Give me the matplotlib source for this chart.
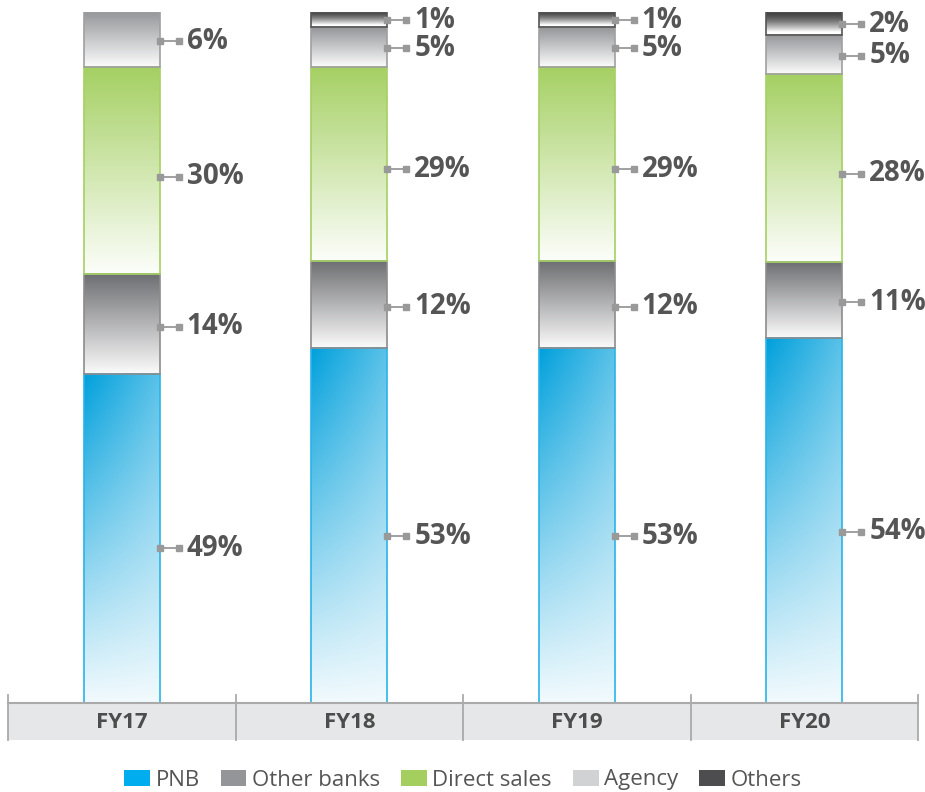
import numpy as np
import matplotlib
matplotlib.use("Agg")
import matplotlib.pyplot as plt
from matplotlib.patches import Rectangle, Patch
from matplotlib.colors import to_rgb
from matplotlib.transforms import blended_transform_factory

years = ["FY17", "FY18", "FY19", "FY20"]
series_names = ["PNB", "Other banks", "Direct sales", "Agency", "Others"]

# labelled values (%)
pnb = [49, 53, 53, 54]
other_banks = [14, 12, 12, 11]
direct_sales = [30, 29, 29, 28]
agency = [6, 5, 5, 5]
others = [0, 1, 1, 2]

# drawn segment heights (% of bar)
pnb_drawn = [47.7, 51.4, 51.4, 52.8]
other_banks_drawn = [14.5, 12.6, 12.6, 11.0]
direct_sales_drawn = [29.9, 28.1, 28.1, 27.2]
agency_drawn = [8.0, 5.7, 5.7, 5.7]
others_drawn = [0.0, 2.2, 2.2, 3.3]

labels = [pnb, other_banks, direct_sales, agency, others]
drawn = [pnb_drawn, other_banks_drawn, direct_sales_drawn, agency_drawn, others_drawn]

legend_colors = ["#00aeef", "#939598", "#a4cf5f", "#d1d2d4", "#4d4d4f"]
top_colors = ["#00a0dc", "#6d6e71", "#a5d063", "#939598", "#404041"]
edge_colors = ["#2ab3ea", "#8c8c8c", "#a5d063", "#a0a0a0", "#555555"]

fig = plt.figure(figsize=(9.25, 7.92), dpi=100)
W, H = 925, 792
ax = fig.add_axes([8 / W, 89 / H, 910 / W, 691 / H])
ax.axis("off")

bw = 76 / 227.5
px = 1 / 227.5  # data units per pixel in x


def grad_img(idx, top, nx=60, ny=120):
    base = np.array(to_rgb(top))
    t = np.linspace(0, 1, ny)[:, None]
    s = np.linspace(0, 1, nx)[None, :]
    if idx == 0:
        f = 0.95 * t + 0.35 * s * (1 - t)
    elif idx == 4:
        f = np.clip(t * 1.15, 0, 1) ** 1.5
    else:
        f = 0.97 * t
    f = np.clip(f, 0, 1)[..., None]
    white = np.array([1.0, 1.0, 1.0])
    return base * (1 - f) + white * f


label_kw = dict(fontsize=20, fontweight="bold", color="#555555",
                family=["Open Sans", "DejaVu Sans"], va="center", ha="left")

for i, yr in enumerate(years):
    total = sum(d[i] for d in drawn)
    bottom = 0.0
    x0, x1 = i - bw / 2, i + bw / 2
    for k in range(len(series_names)):
        v = labels[k][i]
        h = drawn[k][i] / total * 100
        if v <= 0 or h <= 0:
            continue
        img = grad_img(k, top_colors[k])
        ax.imshow(img, extent=[x0, x1, bottom, bottom + h], aspect="auto",
                  origin="upper", zorder=2, interpolation="bilinear")
        ax.add_patch(Rectangle((x0, bottom), bw, h, fill=False,
                               edgecolor=edge_colors[k], lw=1.2, zorder=3))
        ym = bottom + h * 0.47
        ax.plot([x1, x1 + 19 * px], [ym, ym], color="#999999", lw=1.3,
                zorder=4, clip_on=False)
        ax.plot([x1, x1 + 19 * px], [ym, ym], ls="none", marker="s", ms=4.5,
                color="#999999", zorder=4, clip_on=False)
        ax.text(x1 + 27 * px, ym, f"{v}%", zorder=5, clip_on=False, **label_kw)
        bottom += h

ax.set_xlim(-0.5, 3.5)
ax.set_ylim(0, 100)

# category band
tr = blended_transform_factory(ax.transData, ax.transAxes)
ax.add_patch(Rectangle((-0.5, -37 / 691), 4, 37 / 691, transform=tr,
                       facecolor="#e6e7e8", edgecolor="none", clip_on=False,
                       zorder=1))
ax.plot([-0.5, 3.5], [0, 0], transform=tr, color="#aaaaaa", lw=1.5,
        clip_on=False, zorder=3)
for xb in np.arange(-0.5, 4.0, 1.0):
    ax.plot([xb, xb], [-37 / 691, 8 / 691], transform=tr, color="#aaaaaa",
            lw=1.3, clip_on=False, zorder=3)
for i, yr in enumerate(years):
    ax.text(i, -19 / 691, yr, transform=tr, ha="center", va="center",
            fontsize=16, fontweight="bold", color="#4d4d4d",
            family=["Open Sans", "DejaVu Sans"])

handles = [Patch(facecolor=c, edgecolor="none", label=n)
           for c, n in zip(legend_colors, series_names)]
leg = fig.legend(handles=handles, loc="center", bbox_to_anchor=(463 / W, 12 / H),
                 ncol=5, frameon=False, handlelength=1.15, handleheight=0.7,
                 handletextpad=0.25, columnspacing=0.95,
                 prop={"family": ["Open Sans", "DejaVu Sans"], "size": 16})
for t in leg.get_texts():
    t.set_color("#555555")

fig.savefig("out.png", dpi=100)
